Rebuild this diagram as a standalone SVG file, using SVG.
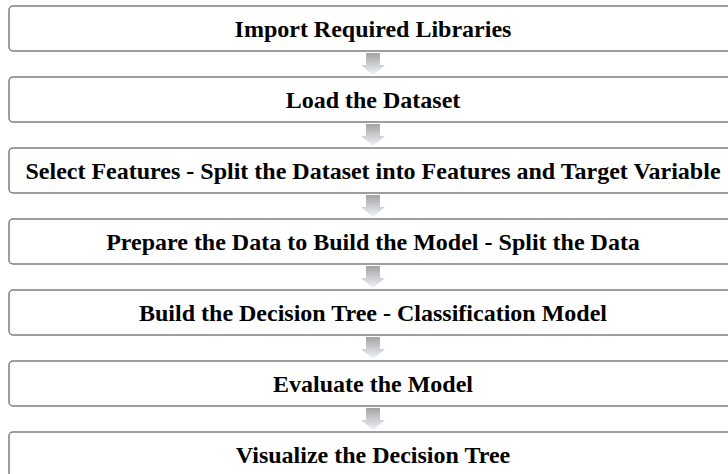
<svg xmlns="http://www.w3.org/2000/svg" width="728" height="474" viewBox="0 0 728 474">
<defs>
<linearGradient id="ag" x1="0" y1="0" x2="0" y2="1">
<stop offset="0" stop-color="#a3a3a3"/>
<stop offset="1" stop-color="#f0f4f9"/>
</linearGradient>
<path id="arr" d="M-7,0 H7 V12 H12 L0,22 L-12,12 H-7 Z" fill="url(#ag)"/>
</defs>
<style>
.box{fill:#fff;stroke:#7f7f7f;stroke-width:1.5}
.t{font-family:"Liberation Serif","Times New Roman",serif;font-weight:bold;font-size:24px;fill:#000;text-anchor:middle}
</style>
<rect width="728" height="474" fill="#fff"/>
<g id="connectors">
<use href="#arr" x="373" y="53"/>
<use href="#arr" x="373" y="124"/>
<use href="#arr" x="373" y="195"/>
<use href="#arr" x="373" y="266"/>
<use href="#arr" x="373" y="337"/>
<use href="#arr" x="373" y="408"/>
</g>
<g id="n1"><rect class="box" x="9" y="6" width="728" height="45" rx="4"/><text class="t" x="373" y="36.5">Import Required Libraries</text></g>
<g id="n2"><rect class="box" x="9" y="77" width="728" height="45" rx="4"/><text class="t" x="373" y="107.5">Load the Dataset</text></g>
<g id="n3"><rect class="box" x="9" y="148" width="728" height="45" rx="4"/><text class="t" x="373" y="178.5">Select Features - Split the Dataset into Features and Target Variable</text></g>
<g id="n4"><rect class="box" x="9" y="219" width="728" height="45" rx="4"/><text class="t" x="373" y="249.5">Prepare the Data to Build the Model - Split the Data</text></g>
<g id="n5"><rect class="box" x="9" y="290" width="728" height="45" rx="4"/><text class="t" x="373" y="320.5">Build the Decision Tree - Classification Model</text></g>
<g id="n6"><rect class="box" x="9" y="361" width="728" height="45" rx="4"/><text class="t" x="373" y="391.5">Evaluate the Model</text></g>
<g id="n7"><rect class="box" x="9" y="432" width="728" height="45" rx="4"/><text class="t" x="373" y="462.5">Visualize the Decision Tree</text></g>
</svg>
